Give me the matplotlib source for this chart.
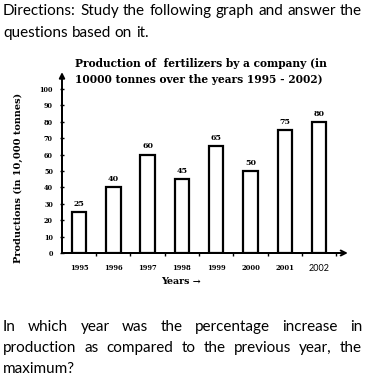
import matplotlib
matplotlib.use("Agg")
from matplotlib import pyplot as plt

# Data
years = ["1995", "1996", "1997", "1998", "1999", "2000", "2001", "2002"]
production = [25, 40, 60, 45, 65, 50, 75, 80]
y_ticks = [0, 10, 20, 30, 40, 50, 60, 70, 80, 90, 100]

TITLE = "Production of  fertilizers by a company (in\n10000 tonnes over the years 1995 - 2002)"
Y_LABEL = "Productions (in 10,000 tonnes)"
X_LABEL = "Years \u2192"
INTRO = ["Directions: Study the following graph and answer the", "questions based on it."]
QUESTION = [
    "In which year was the percentage increase in",
    "production as compared to the previous year, the",
    "maximum?",
]

W, H = 368, 379
SERIF = "DejaVu Serif"
SANS = "Lato"
BODY = 11


def px(x, y):
    """Pixel position (top-left origin) -> figure fraction."""
    return x / W, 1 - y / H


def text_line(fig, words, y, x0, x1=None, **kw):
    """Draw one line of words, spread to fill x0..x1 when x1 is given."""
    renderer = fig.canvas.get_renderer()
    arts = [fig.text(0, 0, w, va="center", ha="left", **kw) for w in words]
    widths = [a.get_window_extent(renderer).width for a in arts]
    probe = fig.text(0, 0, "a b", **kw)
    gap = probe.get_window_extent(renderer).width
    probe.set_text("ab")
    gap -= probe.get_window_extent(renderer).width
    probe.remove()
    if x1 is not None and len(words) > 1:
        gap = max(gap, (x1 - x0 - sum(widths)) / (len(words) - 1))
    x = x0
    for a, w in zip(arts, widths):
        a.set_position(px(x, y))
        x += w + gap


fig = plt.figure(figsize=(W / 100, H / 100), dpi=100)

# axes: x from 62 px to 340 px, y=0 at 253 px, y=100 at 89 px
ax = fig.add_axes([62 / W, (H - 253) / H, (340 - 62) / W, 164 / H])
pos = list(range(len(years)))
ax.bar(pos, production, width=0.42, facecolor="white", edgecolor="black", linewidth=1.6, zorder=3)
for i, v in zip(pos, production):
    ax.text(i, v + 2.5, str(v), ha="center", va="bottom", fontsize=5.7,
            fontweight="bold", family=SERIF)

ax.set_xlim(-0.496, 7.61)
ax.set_ylim(0, 100)
for s in ["top", "right"]:
    ax.spines[s].set_visible(False)
ax.spines["left"].set_linewidth(1.4)
ax.spines["bottom"].set_linewidth(1.4)

ax.set_yticks(y_ticks)
ax.set_yticklabels([str(t) for t in y_ticks], fontsize=4.7, fontweight="bold", family=SERIF)
ax.tick_params(axis="y", length=3, width=1, direction="inout", pad=5)

ax.set_xticks(pos)
ax.set_xticklabels(years, fontsize=4.9, fontweight="bold", family=SERIF)
ax.set_xticks([p + 0.5 for p in pos], minor=True)
ax.tick_params(axis="x", which="major", length=0, pad=8)
ax.tick_params(axis="x", which="minor", length=2.5, width=1, direction="out")
last = ax.get_xticklabels()[-1]
last.set_fontweight("normal")
last.set_fontsize(6.5)
last.set_family(SANS)

# axis arrows
ax.annotate("", xy=(-0.496, 112), xytext=(-0.496, 0), annotation_clip=False,
            arrowprops=dict(arrowstyle="-|>", lw=1.4, color="black", mutation_scale=8))
ax.annotate("", xy=(7.92, 0), xytext=(-0.496, 0), annotation_clip=False,
            arrowprops=dict(arrowstyle="->", lw=1.4, color="black", mutation_scale=9))

fig.text(*px(18, 178), Y_LABEL, rotation=90, ha="center", va="center", fontsize=7.05,
         fontweight="bold", family=SERIF)
fig.text(*px(181, 282), X_LABEL, ha="center", va="center", fontsize=6.8,
         fontweight="bold", family=SERIF)
fig.text(*px(75, 58), TITLE, ha="left", va="top", fontsize=7.7, fontweight="bold",
         family=SERIF, linespacing=1.55)

text_line(fig, INTRO[0].split(), 11, 3, 362, fontsize=BODY, family=SANS)
text_line(fig, INTRO[1].split(), 33, 3, None, fontsize=BODY, family=SANS)
text_line(fig, QUESTION[0].split(), 327, 3, 362, fontsize=BODY, family=SANS)
text_line(fig, QUESTION[1].split(), 348, 3, 362, fontsize=BODY, family=SANS)
text_line(fig, QUESTION[2].split(), 369, 3, None, fontsize=BODY, family=SANS)

fig.savefig("out.png", dpi=100)
